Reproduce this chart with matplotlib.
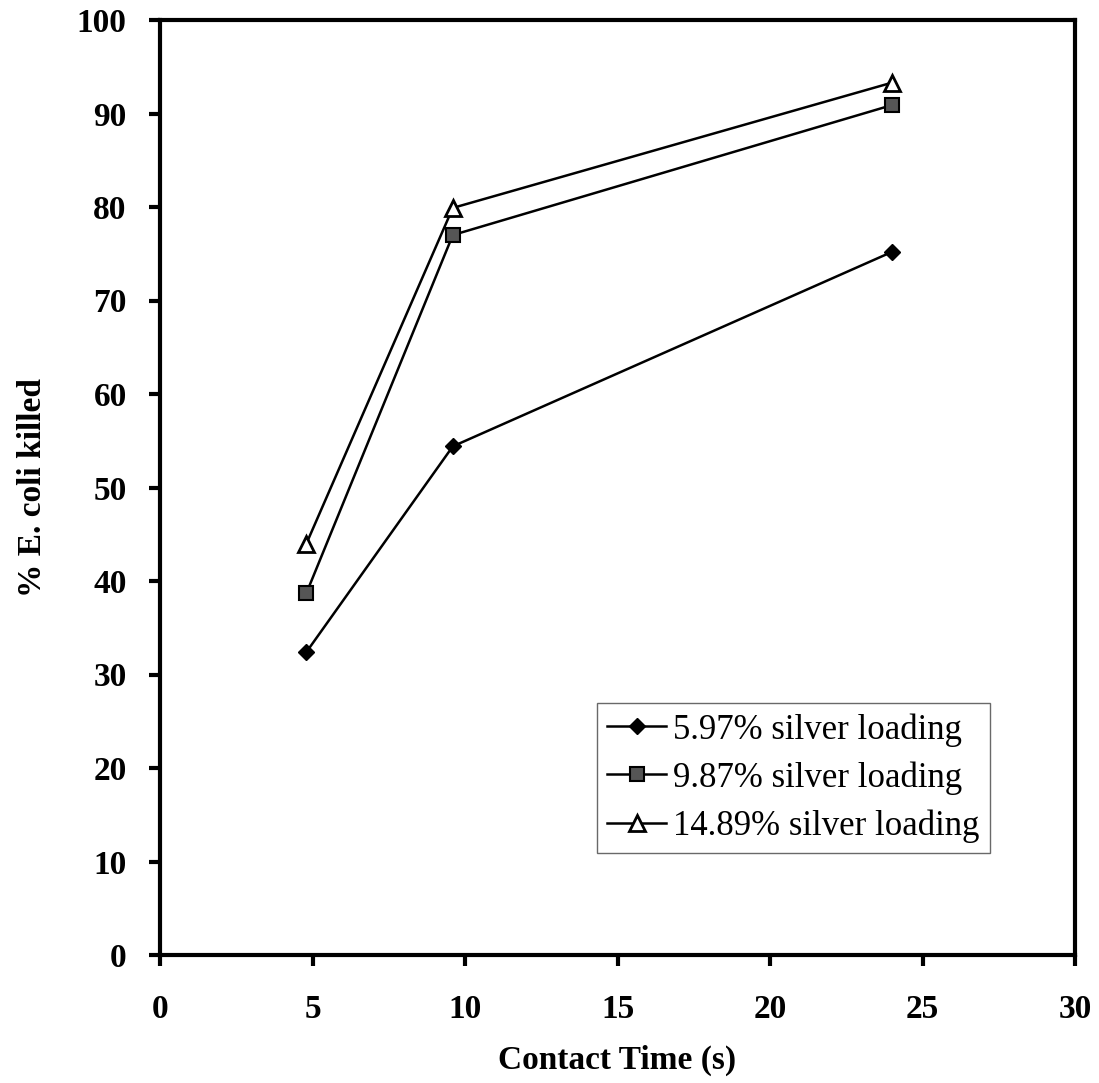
import matplotlib
matplotlib.use('Agg')
import matplotlib.pyplot as plt

plt.rcParams['font.family'] = ['Liberation Serif', 'DejaVu Serif']

contact_time = [4.8, 9.6, 24]
series_labels = ['5.97% silver loading', '9.87% silver loading', '14.89% silver loading']
killed_597 = [32.4, 54.4, 75.2]
killed_987 = [38.7, 77.0, 90.9]
killed_1489 = [44.0, 79.9, 93.3]

x_ticks = [0, 5, 10, 15, 20, 25, 30]
y_ticks = [0, 10, 20, 30, 40, 50, 60, 70, 80, 90, 100]

fig = plt.figure(figsize=(10.99, 10.83), dpi=100)
ax = fig.add_axes([160 / 1099, 1 - 955 / 1083, 915 / 1099, 935 / 1083])

ax.plot(contact_time, killed_597, color='black', lw=1.8, marker='D', ms=8,
        mfc='black', mec='black', label=series_labels[0])
ax.plot(contact_time, killed_987, color='black', lw=1.8, marker='s', ms=10,
        mfc='#555555', mec='black', mew=1.5, label=series_labels[1])
ax.plot(contact_time, killed_1489, color='black', lw=1.8, marker='^', ms=11,
        mfc='white', mec='black', mew=2, label=series_labels[2])

ax.set_xlim(0, 30)
ax.set_ylim(0, 100)
ax.set_xticks(x_ticks)
ax.set_yticks(y_ticks)
ax.tick_params(direction='out', length=8, width=3, labelsize=24)
ax.tick_params(axis='x', pad=20)
ax.tick_params(axis='y', pad=16)
for lab in ax.get_xticklabels() + ax.get_yticklabels():
    lab.set_fontweight('bold')

for side in ['left', 'bottom', 'top', 'right']:
    ax.spines[side].set_linewidth(3)

ax.set_xlabel('Contact Time (s)', fontsize=24, fontweight='bold', labelpad=14)
ax.set_ylabel('% E. coli killed', fontsize=24, fontweight='bold', labelpad=21)

leg = ax.legend(loc='lower right', bbox_to_anchor=(0.907, 0.109), borderaxespad=0,
                fontsize=25, handlelength=1.7, handletextpad=0.2, borderpad=0.3,
                labelspacing=0.42, frameon=True, fancybox=False)
leg.get_frame().set_edgecolor('#444444')
leg.get_frame().set_linewidth(1)

fig.savefig('out.png', dpi=100)
